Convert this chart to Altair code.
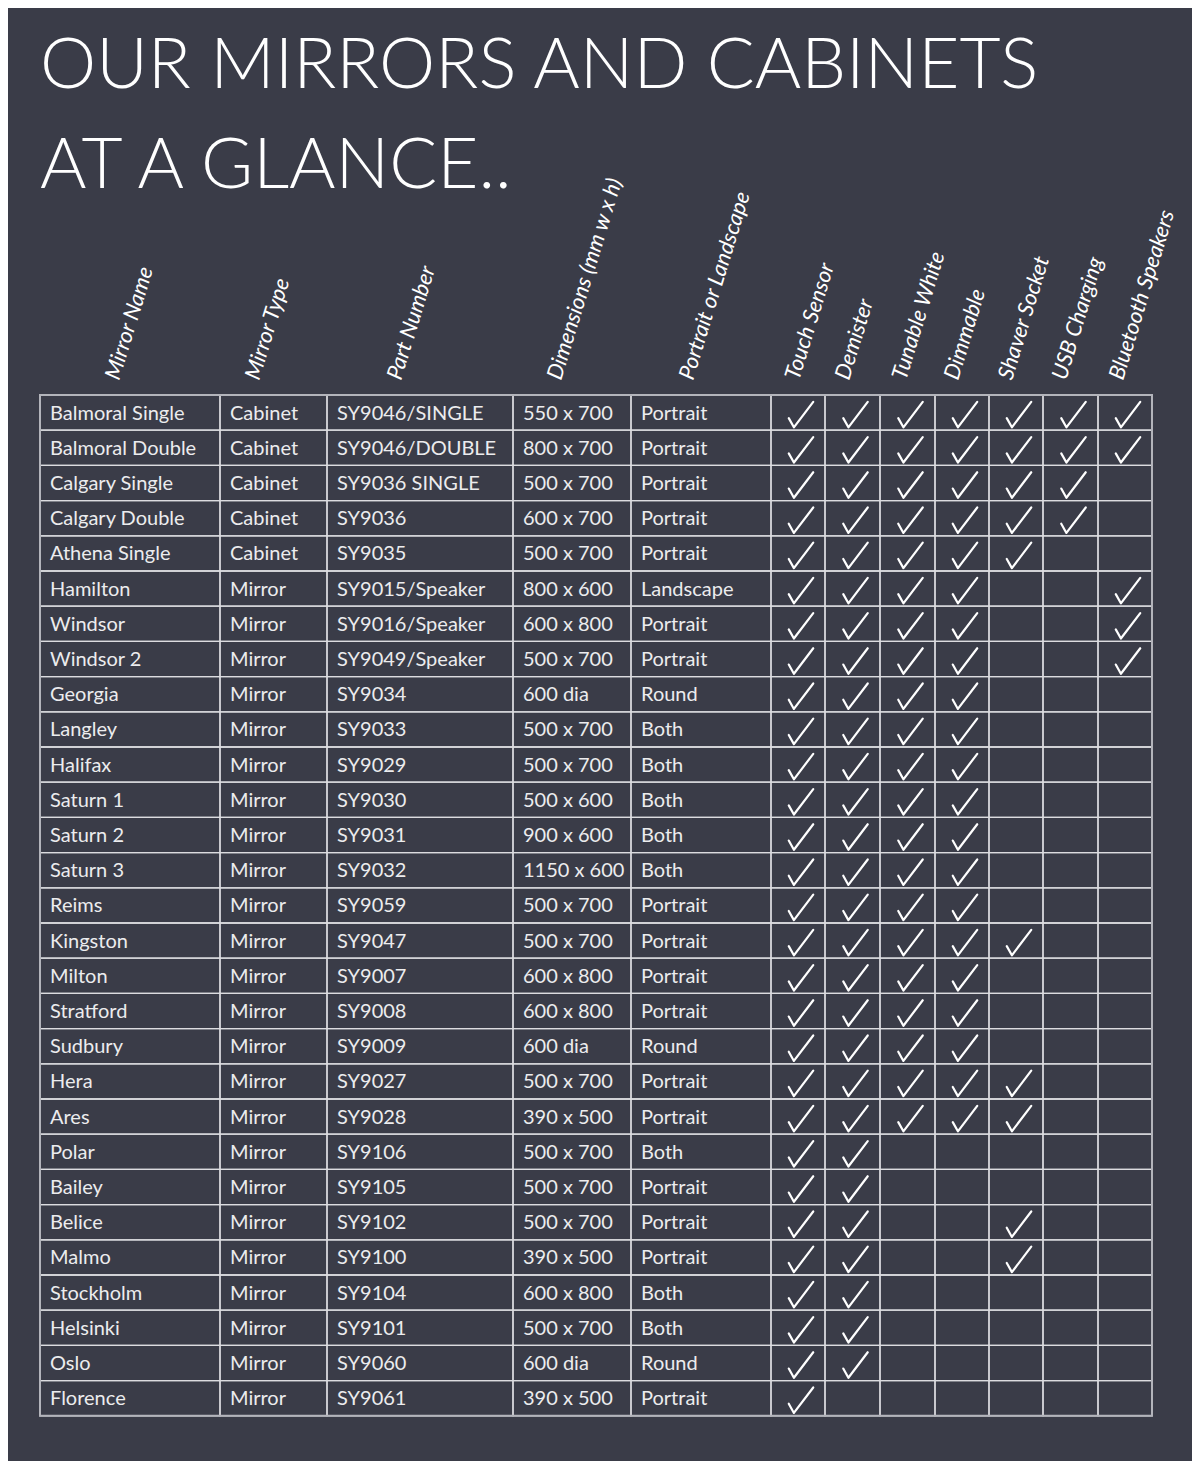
import altair as alt
import pandas as pd

# ---------------- data ----------------
title_lines = ["OUR MIRRORS AND CABINETS", "AT A GLANCE.."]

info_headers = ["Mirror Name", "Mirror Type", "Part Number",
                "Dimensions (mm w x h)", "Portrait or Landscape"]
features = ["Touch Sensor", "Demister", "Tunable White", "Dimmable",
            "Shaver Socket", "USB Charging", "Bluetooth Speakers"]

names = ["Balmoral Single", "Balmoral Double", "Calgary Single", "Calgary Double",
         "Athena Single", "Hamilton", "Windsor", "Windsor 2", "Georgia", "Langley",
         "Halifax", "Saturn 1", "Saturn 2", "Saturn 3", "Reims", "Kingston", "Milton",
         "Stratford", "Sudbury", "Hera", "Ares", "Polar", "Bailey", "Belice", "Malmo",
         "Stockholm", "Helsinki", "Oslo", "Florence"]
types = ["Cabinet"] * 5 + ["Mirror"] * 24
parts = ["SY9046/SINGLE", "SY9046/DOUBLE", "SY9036 SINGLE", "SY9036", "SY9035",
         "SY9015/Speaker", "SY9016/Speaker", "SY9049/Speaker", "SY9034", "SY9033",
         "SY9029", "SY9030", "SY9031", "SY9032", "SY9059", "SY9047", "SY9007",
         "SY9008", "SY9009", "SY9027", "SY9028", "SY9106", "SY9105", "SY9102",
         "SY9100", "SY9104", "SY9101", "SY9060", "SY9061"]
dims = ["550 x 700", "800 x 700", "500 x 700", "600 x 700", "500 x 700",
        "800 x 600", "600 x 800", "500 x 700", "600 dia", "500 x 700",
        "500 x 700", "500 x 600", "900 x 600", "1150 x 600", "500 x 700",
        "500 x 700", "600 x 800", "600 x 800", "600 dia", "500 x 700",
        "390 x 500", "500 x 700", "500 x 700", "500 x 700", "390 x 500",
        "600 x 800", "500 x 700", "600 dia", "390 x 500"]
orientation = ["Portrait", "Portrait", "Portrait", "Portrait", "Portrait",
               "Landscape", "Portrait", "Portrait", "Round", "Both",
               "Both", "Both", "Both", "Both", "Portrait",
               "Portrait", "Portrait", "Portrait", "Round", "Portrait",
               "Portrait", "Both", "Portrait", "Portrait", "Portrait",
               "Both", "Both", "Round", "Portrait"]
# one flag per feature column (Touch, Demister, Tunable, Dimmable, Shaver, USB, Bluetooth)
feature_flags = ["1111111", "1111111", "1111110", "1111110", "1111100",
                 "1111001", "1111001", "1111001", "1111000", "1111000",
                 "1111000", "1111000", "1111000", "1111000", "1111000",
                 "1111100", "1111000", "1111000", "1111000", "1111100",
                 "1111100", "1100000", "1100000", "1100100", "1100100",
                 "1100000", "1100000", "1100000", "1000000"]

# ---------------- layout (pixels of the page) ----------------
COL_EDGES = [40, 220, 327, 513, 631, 771, 825, 880, 935, 989, 1043, 1098, 1152]
TOP = 395.0
ROW_H = 35.2
HEAD_X = [119, 259, 401, 561, 693, 799, 849, 906, 958, 1012, 1066, 1123]
HEAD_Y = 381
TITLE_X = 40
TITLE_Y = [88, 188]
BG = "#3a3c48"
FONT = "Lato"
W, H = 1184, 1453   # plot area = page minus its 8px margins

# ---------------- tables ----------------
n = len(names)
cols = [names, types, parts, dims, orientation]

cells, texts, checks = [], [], []
for r in range(n):
    y0 = TOP + r * ROW_H
    y1 = y0 + ROW_H
    for c in range(len(COL_EDGES) - 1):
        cells.append({"x": COL_EDGES[c], "x2": COL_EDGES[c + 1], "y": y0, "y2": y1})
    for c, col in enumerate(cols):
        texts.append({"x": COL_EDGES[c] + 10, "y": (y0 + y1) / 2 + 1, "t": col[r]})
    for k, f in enumerate(feature_flags[r]):
        if f == "1":
            c = 5 + k
            checks.append({"x": (COL_EDGES[c] + COL_EDGES[c + 1]) / 2 + 3,
                           "y": (y0 + y1) / 2 + 2, "feature": features[k]})

headers = info_headers + features
head_df = pd.DataFrame({"x": HEAD_X, "y": [HEAD_Y] * len(headers), "t": headers})
title_df = pd.DataFrame({"x": [TITLE_X] * 2, "y": TITLE_Y, "t": title_lines})
border_df = pd.DataFrame({"x": [COL_EDGES[0]], "x2": [COL_EDGES[-1]],
                          "y": [TOP], "y2": [TOP + n * ROW_H]})

xs = alt.Scale(domain=[8, 8 + W], nice=False, zero=False)
ys = alt.Scale(domain=[8, 8 + H], nice=False, zero=False, reverse=True)
X = alt.X("x:Q", scale=xs, axis=None)
Y = alt.Y("y:Q", scale=ys, axis=None)

grid = alt.Chart(pd.DataFrame(cells)).mark_rect(
    fillOpacity=0, stroke="#dcdce0", strokeWidth=1.3
).encode(x=X, x2="x2:Q", y=Y, y2="y2:Q")

border = alt.Chart(border_df).mark_rect(
    fillOpacity=0, stroke="#b3b4bb", strokeWidth=2
).encode(x=X, x2="x2:Q", y=Y, y2="y2:Q")

cell_text = alt.Chart(pd.DataFrame(texts)).mark_text(
    align="left", baseline="middle", font=FONT, fontSize=20, color="#ececee"
).encode(x=X, y=Y, text="t:N")

tick_marks = alt.Chart(pd.DataFrame(checks)).mark_point(
    shape="M-1,0.29L-0.58,1.04L1,-1.04", filled=False, stroke="white",
    strokeWidth=2.2, size=600, opacity=1, strokeCap="round", strokeJoin="round"
).encode(x=X, y=Y)

head_text = alt.Chart(head_df).mark_text(
    align="left", baseline="alphabetic", angle=287, font=FONT,
    fontStyle="italic", fontSize=22, color="white"
).encode(x=X, y=Y, text="t:N")

title_text = alt.Chart(title_df).mark_text(
    align="left", baseline="alphabetic", font=FONT, fontWeight=300,
    fontSize=71, color="white"
).encode(x=X, y=Y, text="t:N")

chart = alt.layer(grid, border, cell_text, tick_marks, head_text, title_text).properties(
    width=W, height=H, padding=0, autosize=alt.AutoSizeParams(type="none"),
    background=BG
).configure_view(stroke=None)

chart.save("out.html", embed_options={"renderer": "svg", "actions": False})
